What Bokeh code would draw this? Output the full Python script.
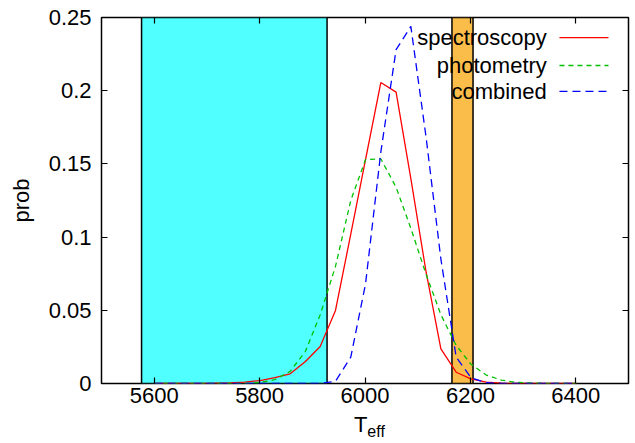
from bokeh.plotting import figure
from bokeh.layouts import column
from bokeh.models import Range1d, FixedTicker, LinearAxis, Label, CustomJSTickFormatter
from bokeh.core.properties import value
from bokeh.embed import file_html
from bokeh.resources import INLINE

# ---- data ----
teff = [5601, 5630, 5658, 5687, 5715, 5744, 5772, 5801, 5829, 5858, 5887, 5915, 5944, 5973,
        6001, 6030, 6059, 6087, 6116, 6144, 6173, 6201, 6230, 6259, 6287, 6316, 6344, 6373, 6401]
spectroscopy = [0, 0, 0, 0.0001, 0.0002, 0.0004, 0.001, 0.002, 0.004, 0.0066, 0.015, 0.0253, 0.0499,
                0.102, 0.153, 0.2056, 0.199, 0.140, 0.076, 0.0237, 0.0077, 0.0032, 0.0009, 0.0002,
                0, 0, 0, 0, 0]
photometry = [0, 0, 0, 0, 0, 0.00003, 0.00014, 0.0007, 0.0026, 0.0083, 0.022, 0.047, 0.080, 0.125,
              0.153, 0.1535, 0.134, 0.106, 0.0745, 0.047, 0.026, 0.0132, 0.0058, 0.0023, 0.0008,
              0.0003, 0.0001, 0, 0]
combined = [0, 0, 0, 0, 0, 0, 0, 0, 0, 0, 0, 0.0001, 0.0015, 0.018, 0.068, 0.158, 0.228, 0.2439,
            0.168, 0.085, 0.018, 0.004, 0.0005, 0.0001, 0, 0, 0, 0, 0]

band_left = [5576, 6165]
band_right = [5928, 6205]
band_colors = ["#50ffff", "#fbbd4a"]

x_ticks = [5600, 5800, 6000, 6200, 6400]
y_ticks = [0, 0.05, 0.1, 0.15, 0.2, 0.25]

series_names = ["spectroscopy", "photometry", "combined"]
series_colors = ["#ff0000", "#00c000", "#0000ff"]
series_dashes = ["solid", "5 4", "8 5"]

x_label_main = "T"
x_label_sub = "eff"
y_label = "prob"

FONT = "Liberation Sans"

p = figure(width=635, height=412, x_range=Range1d(5500, 6500), y_range=Range1d(0, 0.25),
           output_backend="svg", toolbar_location=None,
           min_border_left=101, min_border_right=7, min_border_top=17, min_border_bottom=29)
p.title.visible = False
p.xgrid.visible = False
p.ygrid.visible = False
p.outline_line_color = "black"
p.outline_line_width = 1.5
p.outline_line_alpha = 1.0
p.background_fill_color = "white"
p.border_fill_color = "white"

def style_axis(ax, ticks, show_labels):
    ax.ticker = FixedTicker(ticks=ticks)
    ax.axis_line_color = None
    ax.major_tick_in = 6
    ax.major_tick_out = 0
    ax.major_tick_line_color = "black"
    ax.major_tick_line_width = 1.2
    ax.minor_tick_line_color = None
    if show_labels:
        ax.formatter = CustomJSTickFormatter(code="return Number(tick.toFixed(3)).toString();")
        ax.major_label_text_font = FONT
        ax.major_label_text_font_size = "22px"
        ax.major_label_text_color = "black"
    else:
        ax.formatter = CustomJSTickFormatter(code="return '';")
        ax.major_label_text_font_size = "2px"
        ax.major_label_standoff = 0

xa = p.xaxis[0]
style_axis(xa, x_ticks, True)
xa.major_label_standoff = 4

ya = p.yaxis[0]
style_axis(ya, y_ticks, True)
ya.major_label_standoff = 10
ya.axis_label = y_label
ya.axis_label_text_font = FONT
ya.axis_label_text_font_size = "22px"
ya.axis_label_text_font_style = "normal"
ya.axis_label_text_color = "black"
ya.axis_label_standoff = 12

top_ax = LinearAxis()
style_axis(top_ax, x_ticks, False)
p.add_layout(top_ax, "above")
right_ax = LinearAxis()
style_axis(right_ax, y_ticks, False)
p.add_layout(right_ax, "right")

# shaded bands
p.quad(left=band_left, right=band_right, bottom=[0, 0], top=[0.25, 0.25],
       fill_color=band_colors, line_color="black", line_width=1.5)

# curves
for ys, c, d in zip([spectroscopy, photometry, combined], series_colors, series_dashes):
    p.line(teff, ys, line_color=c, line_dash=d, line_width=1.3)

# gnuplot-style legend (text, then sample line)
leg_text_x = 6345
leg_x0, leg_x1 = 6369, 6462
leg_y = [0.2363, 0.2172, 0.1995]
for name, c, d, yy in zip(series_names, series_colors, series_dashes, leg_y):
    p.add_layout(Label(x=leg_text_x, y=yy, text=name, text_align="right", text_baseline="middle",
                       text_font=FONT, text_font_size="22px", text_color="black"))
    p.segment(x0=[leg_x0], y0=[yy], x1=[leg_x1], y1=[yy], line_color=c, line_dash=d, line_width=1.3)

# strip below for the x-axis label T_eff (shares the x mapping; y in pixels above the bottom)
p2 = figure(width=635, height=31, x_range=p.x_range, y_range=Range1d(0, 31),
            output_backend="svg", toolbar_location=None,
            min_border_left=101, min_border_right=7, min_border_top=0, min_border_bottom=0)
p2.title.visible = False
p2.axis.visible = False
p2.grid.visible = False
p2.outline_line_color = None
p2.background_fill_color = "white"
p2.border_fill_color = "white"
p2.text(x=[5979], y=[19.5], text=[x_label_main], text_align="left", text_baseline="alphabetic",
        text_font=value(FONT), text_font_size="22px", text_color="black")
p2.text(x=[6004.5], y=[12.2], text=[x_label_sub], text_align="left", text_baseline="alphabetic",
        text_font=value(FONT), text_font_size="16px", text_color="black")

layout = column(p, p2, spacing=0)
open("out.html", "w").write(file_html(layout, INLINE))
